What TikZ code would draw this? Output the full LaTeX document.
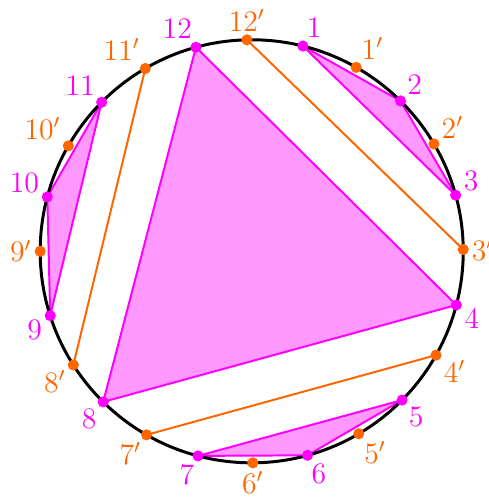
\documentclass[tikz,border=0pt]{standalone}
\definecolor{myorange}{RGB}{255,102,0}
\definecolor{mymag}{RGB}{255,0,255}
\begin{document}
\begin{tikzpicture}[
  mdot/.style={circle,fill=mymag,inner sep=0pt,minimum size=4.5pt},
  odot/.style={circle,fill=myorange,inner sep=0pt,minimum size=4.5pt},
  mlab/.style={text=mymag,font=\large,inner sep=0.8pt},
  olab/.style={text=myorange,font=\large,inner sep=0.8pt},
  poly/.style={draw=mymag,fill=mymag!40,line width=0.8pt,line join=round},
  chord/.style={draw=myorange,line width=0.8pt}
]
\useasboundingbox (-3.570,-3.513) rectangle (3.352,3.564);
\foreach \k/\a in {1/76,2/45.3,3/15.4,4/-14.7,5/-44.7,6/-74.7,7/-104.7,8/-134.6,9/-162.3,10/165.1,11/135.2,12/105.3}{
  \coordinate (m\k) at (\a:3);
}
\foreach \k/\b in {1/60.4,2/30.5,3/0.5,4/-29.4,5/-59.6,6/-89.7,7/-119.8,8/-147.5,9/180,10/150.1,11/120.2,12/91.3}{
  \coordinate (o\k) at (\b:3);
}
\draw[poly] (m12) -- (m4) -- (m8) -- cycle;
\draw[poly] (m1) -- (m2) -- (m3) -- cycle;
\draw[poly] (m5) -- (m6) -- (m7) -- cycle;
\draw[poly] (m9) -- (m10) -- (m11) -- cycle;
\draw[chord] (o12) -- (o3);
\draw[chord] (o4) -- (o7);
\draw[chord] (o8) -- (o11);
\draw[line width=1.2pt] (0,0) circle (3);
\foreach \k/\a in {1/76,2/45.3,3/15.4,4/-14.7,5/-44.7,6/-74.7,7/-104.7,8/-134.6,9/-162.3,10/165.1,11/135.2,12/105.3}{
  \node[mdot,label={[mlab]\a:\k}] (pm\k) at (m\k) {};
}
\foreach \k/\b in {1/60.4,2/30.5,3/0.5,4/-29.4,5/-59.6,6/-89.7,7/-119.8,8/-147.5,9/180,10/150.1,11/120.2,12/91.3}{
  \node[odot,label={[olab]\b:\k$'$}] (po\k) at (o\k) {};
}
\end{tikzpicture}
\end{document}
